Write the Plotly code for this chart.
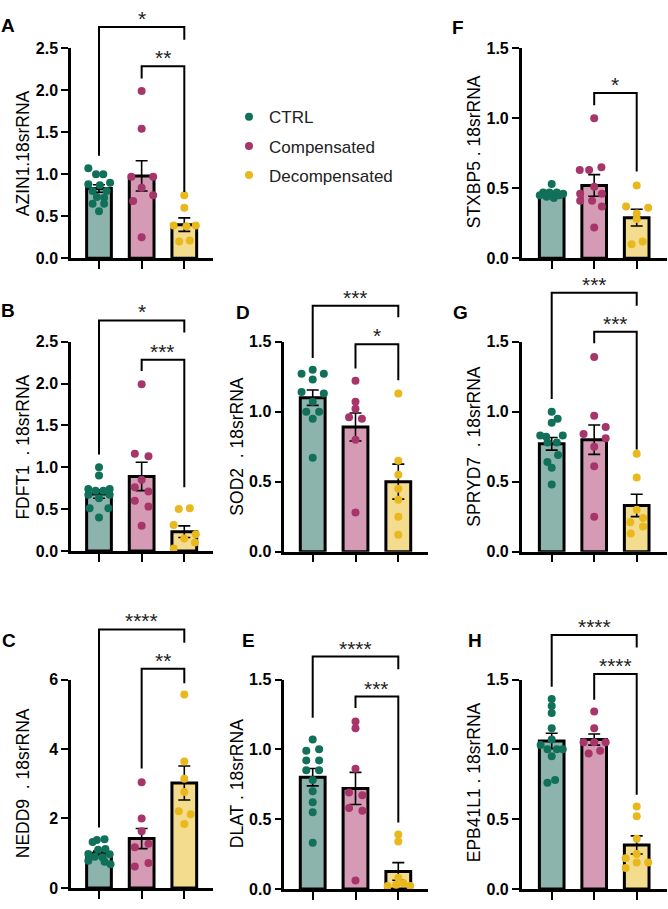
import plotly.graph_objects as go

W, H = 668, 909
FONT = "Liberation Sans, Arial, sans-serif"

groups = ["CTRL", "Compensated", "Decompensated"]
dot_colors = ["#11705a", "#a8356a", "#e8b81c"]
bar_colors = ["#8cb4ad", "#d69bb4", "#f4dc8e"]

# ---------------- data ----------------
# Panel A  AZIN1
a_ctrl = [1.07, 1.00, 1.00, 0.88, 0.87, 0.90, 0.80, 0.80, 0.73, 0.72, 0.65, 0.65, 0.56]
a_comp = [1.99, 1.54, 0.97, 0.97, 0.84, 0.75, 0.68, 0.25]
a_deco = [0.75, 0.60, 0.39, 0.39, 0.38, 0.20, 0.21]
a_mean = [0.83, 0.98, 0.40]
a_sem = [0.045, 0.18, 0.08]
a_sig = [(0, 2, 2.753, 1.22, 2.60, "*"), (1, 2, 2.286, 2.14, 0.787, "**")]

# Panel B  FDFT1
b_ctrl = [1.00, 0.90, 0.74, 0.74, 0.72, 0.72, 0.67, 0.67, 0.63, 0.51, 0.51, 0.40]
b_comp = [1.99, 1.16, 1.13, 0.85, 0.76, 0.71, 0.60, 0.53, 0.30]
b_deco = [0.50, 0.51, 0.31, 0.20, 0.15, 0.10, 0.03]
b_mean = [0.68, 0.89, 0.23]
b_sem = [0.05, 0.17, 0.07]
b_sig = [(0, 2, 2.754, 1.152, 2.61, "*"), (1, 2, 2.285, 2.148, 0.76, "***")]

# Panel C  NEDD9
c_ctrl = [1.40, 1.38, 1.32, 1.12, 1.10, 0.98, 0.97, 0.90, 0.88, 0.78, 0.75, 0.68]
c_comp = [3.04, 2.00, 1.63, 1.17, 1.27, 0.62, 0.72]
c_deco = [5.57, 3.64, 3.14, 2.76, 2.21, 2.12, 1.84]
c_mean = [1.00, 1.42, 3.02]
c_sem = [0.06, 0.29, 0.49]
c_sig = [(0, 2, 7.44, 1.74, 7.06, "****"), (1, 2, 6.31, 3.44, 5.89, "**")]

# Panel D  SOD2
d_ctrl = [1.27, 1.30, 1.27, 1.23, 1.14, 1.13, 1.07, 1.00, 1.00, 0.95, 0.67]
d_comp = [1.22, 1.07, 1.02, 0.96, 0.95, 0.80, 0.28]
d_deco = [1.13, 0.65, 0.55, 0.45, 0.37, 0.25, 0.12]
d_mean = [1.10, 0.89, 0.50]
d_sem = [0.055, 0.10, 0.125]
d_sig = [(0, 2, 1.757, 1.383, 1.675, "***"), (1, 2, 1.481, 1.308, 1.224, "*")]

# Panel E  DLAT
e_ctrl = [1.07, 0.99, 1.00, 0.92, 0.92, 0.85, 0.85, 0.78, 0.70, 0.62, 0.55, 0.33]
e_comp = [1.20, 1.15, 0.86, 0.69, 0.67, 0.58, 0.56, 0.06]
e_deco = [0.39, 0.34, 0.08, 0.02, 0.03, 0.04, 0.02]
e_mean = [0.80, 0.72, 0.125]
e_sem = [0.062, 0.115, 0.063]
e_sig = [(0, 2, 1.664, 1.226, 1.573, "****"), (1, 2, 1.378, 1.296, 0.476, "***")]

# Panel F  STXBP5
f_ctrl = [0.53, 0.47, 0.47, 0.47, 0.46, 0.45, 0.45, 0.43, 0.44]
f_comp = [1.00, 0.63, 0.63, 0.65, 0.51, 0.46, 0.46, 0.41, 0.41, 0.37, 0.22]
f_deco = [0.52, 0.37, 0.36, 0.32, 0.28, 0.10, 0.12]
f_mean = [0.46, 0.52, 0.29]
f_sem = [0.01, 0.077, 0.06]
f_sig = [(1, 2, 1.18, 1.093, 0.619, "*")]

# Panel G  SPRYD7
g_ctrl = [1.00, 0.95, 0.92, 0.83, 0.83, 0.82, 0.78, 0.78, 0.69, 0.64, 0.60, 0.48]
g_comp = [1.39, 0.97, 0.84, 0.89, 0.81, 0.75, 0.61, 0.25]
g_deco = [0.70, 0.53, 0.30, 0.21, 0.24, 0.18, 0.13]
g_mean = [0.77, 0.80, 0.33]
g_sem = [0.045, 0.105, 0.08]
g_sig = [(0, 2, 1.85, 1.091, 1.757, "***"), (1, 2, 1.57, 1.488, 0.729, "***")]

# Panel H  EPB41L1
h_ctrl = [1.36, 1.31, 1.26, 1.15, 1.03, 1.07, 1.00, 1.00, 1.00, 0.95, 0.76, 0.78]
h_comp = [1.27, 1.15, 1.05, 1.05, 1.05, 0.97, 0.99]
h_deco = [0.59, 0.52, 0.36, 0.22, 0.25, 0.19, 0.19, 0.15]
h_mean = [1.06, 1.07, 0.315]
h_sem = [0.055, 0.04, 0.065]
h_sig = [(0, 2, 1.819, 1.448, 1.73, "****"), (1, 2, 1.54, 1.355, 0.675, "****")]

# ---------------- beeswarm horizontal offsets (layout of the dots) ----------------
a_off = [[-0.25, -0.07, 0.10, -0.25, 0.02, 0.26, -0.15, 0.18, -0.05, 0.12, -0.15, 0.12, 0.0],
         [0, 0, -0.24, 0.27, 0, 0.27, -0.2, 0],
         [0, 0, -0.25, 0.27, 0.05, -0.12, 0.13]]
b_off = [[0, 0, -0.25, 0.25, -0.08, 0.10, -0.25, 0.25, 0, -0.22, 0.22, 0],
         [0, -0.16, 0.16, 0, -0.16, 0.16, -0.16, 0.16, 0],
         [-0.13, 0.13, -0.25, 0.27, 0.0, 0.25, -0.25]]
c_off = [[0.13, -0.05, -0.15, 0.15, -0.02, -0.25, 0.25, -0.10, 0.08, -0.25, 0.13, 0.27],
         [0, 0, 0, -0.16, 0.16, -0.16, 0.16],
         [0, 0, 0, 0, -0.13, 0.15, 0]]
d_off = [[-0.26, 0, 0.26, 0, -0.26, 0.26, 0, -0.15, 0.15, 0, 0],
         [0, 0, 0, -0.15, 0.15, 0, 0],
         [0, 0, 0, 0, 0, 0, 0]]
e_off = [[0, -0.15, 0.15, -0.15, 0.15, -0.15, 0.15, 0, 0, 0, 0, 0],
         [0, 0, 0, -0.15, 0.16, -0.15, 0.16, 0],
         [0, 0, 0, -0.25, -0.05, 0.12, 0.28]]
f_off = [[0, -0.20, -0.05, 0.12, 0.27, -0.28, 0.18, 0.05, -0.12],
         [0, -0.34, -0.12, 0.17, 0, -0.33, 0.18, -0.33, -0.05, 0.18, 0],
         [0, -0.25, 0.27, 0, 0, -0.12, 0.14]]
g_off = [[0, 0.14, 0, -0.27, 0.26, -0.13, -0.10, 0.12, 0.15, -0.10, 0, 0],
         [0, 0, -0.25, 0.27, 0.27, 0, 0, 0],
         [0, 0, 0, -0.15, 0.15, 0.15, -0.14]]
h_off = [[0, 0, 0, 0, -0.26, 0, -0.10, 0.12, 0.26, 0, -0.10, 0.08],
         [0, 0, -0.25, 0, 0.27, -0.13, 0.14],
         [0, 0, 0, -0.26, 0, 0.27, 0, -0.26]]

# ---------------- panel layout (pixel geometry) ----------------
panels = [
    dict(L="A", title="AZIN1.18srRNA", pts=(a_ctrl, a_comp, a_deco), off=a_off, mean=a_mean, sem=a_sem, sig=a_sig,
         x0=71, x1=213, b0=99, sp=42.65, y0=255, yt=41, top=2.5, dt=0.5, lab=(8, 18), tit=(23, 148)),
    dict(L="B", title="FDFT1\u00a0\u00a0. 18srRNA", pts=(b_ctrl, b_comp, b_deco), off=b_off, mean=b_mean, sem=b_sem, sig=b_sig,
         x0=71, x1=213, b0=99, sp=42.65, y0=553.3, yt=340, top=2.5, dt=0.5, lab=(8, 308), tit=(23, 448)),
    dict(L="C", title="NEDD9\u00a0\u00a0. 18srRNA", pts=(c_ctrl, c_comp, c_deco), off=c_off, mean=c_mean, sem=c_sem, sig=c_sig,
         x0=71, x1=213, b0=99, sp=42.65, y0=896.7, yt=684.3, top=6, dt=2, lab=(9, 645), tit=(23, 790)),
    dict(L="D", title="SOD2\u00a0\u00a0. 18srRNA", pts=(d_ctrl, d_comp, d_deco), off=d_off, mean=d_mean, sem=d_sem, sig=d_sig,
         x0=284.3, x1=428.3, b0=312.7, sp=42.8, y0=554, yt=340, top=1.5, dt=0.5, lab=(243, 310), tit=(237, 447)),
    dict(L="E", title="DLAT\u00a0. 18srRNA", pts=(e_ctrl, e_comp, e_deco), off=e_off, mean=e_mean, sem=e_sem, sig=e_sig,
         x0=284.3, x1=428.3, b0=312.7, sp=42.8, y0=897.7, yt=684.3, top=1.5, dt=0.5, lab=(248, 645), tit=(237, 791)),
    dict(L="F", title="STXBP5 . 18srRNA", pts=(f_ctrl, f_comp, f_deco), off=f_off, mean=f_mean, sem=f_sem, sig=f_sig,
         x0=521.7, x1=666.7, b0=551.7, sp=42.5, y0=255, yt=41, top=1.5, dt=0.5, lab=(458, 20), tit=(474, 147)),
    dict(L="G", title="SPRYD7\u00a0\u00a0. 18srRNA", pts=(g_ctrl, g_comp, g_deco), off=g_off, mean=g_mean, sem=g_sem, sig=g_sig,
         x0=521.7, x1=666.7, b0=551.7, sp=42.5, y0=554, yt=340, top=1.5, dt=0.5, lab=(460, 310), tit=(474, 447)),
    dict(L="H", title="EPB41L1 . 18srRNA", pts=(h_ctrl, h_comp, h_deco), off=h_off, mean=h_mean, sem=h_sem, sig=h_sig,
         x0=521.7, x1=666.7, b0=551.7, sp=42.5, y0=897.7, yt=684.3, top=1.5, dt=0.5, lab=(475, 645), tit=(474, 789)),
]

fig = go.Figure()
layout = {}
annotations = []

for i, p in enumerate(panels):
    km, kb = 2 * i + 1, 2 * i + 2
    sm = "" if km == 1 else str(km)
    sb = str(kb)
    xdom = [p["x0"] / W, p["x1"] / W]
    xr = [-(p["b0"] - p["x0"]) / p["sp"], (p["x1"] - p["b0"]) / p["sp"]]
    scale = (p["y0"] - p["yt"]) / p["top"]

    # main axes
    tv = []
    v = 0.0
    while v <= p["top"] + 1e-9:
        tv.append(round(v, 3))
        v += p["dt"]
    tt = [("<b>%d</b>" % t) if p["dt"] >= 1 else ("<b>%.1f</b>" % t) for t in tv]
    layout["xaxis" + sm] = dict(domain=xdom, range=xr, anchor="y" + sm, showline=True, linewidth=2.5,
                                linecolor="black", ticks="outside", ticklen=8, tickwidth=2, tickcolor="black",
                                tickvals=[0, 1, 2], showticklabels=False, showgrid=False, zeroline=False,
                                fixedrange=True)
    layout["yaxis" + sm] = dict(domain=[1 - p["y0"] / H, 1 - p["yt"] / H], range=[0, p["top"]], anchor="x" + sm,
                                showline=True, linewidth=2.5, linecolor="black", ticks="outside", ticklen=7,
                                tickwidth=2, tickcolor="black", tickvals=tv, ticktext=tt, showgrid=False,
                                zeroline=False, fixedrange=True,
                                tickfont=dict(family=FONT, size=16, color="black"))
    # bracket overlay axes (same x scale, y extends to the top of the figure)
    layout["xaxis" + sb] = dict(domain=xdom, range=xr, anchor="y" + sb, visible=False, fixedrange=True)
    layout["yaxis" + sb] = dict(domain=[1 - p["y0"] / H, 1], range=[0, p["y0"] / scale], anchor="x" + sb,
                                visible=False, fixedrange=True)

    # bars with SEM
    fig.add_trace(go.Bar(x=[0, 1, 2], y=p["mean"], width=0.58, xaxis="x" + sm, yaxis="y" + sm,
                         marker=dict(color=bar_colors, line=dict(color="black", width=3)),
                         error_y=dict(type="data", array=p["sem"], visible=True, color="black",
                                      thickness=1.6, width=6),
                         showlegend=False, hoverinfo="skip"))
    # dots
    for g in range(3):
        vals = p["pts"][g]
        xs = [g + o for o in p["off"][g]]
        fig.add_trace(go.Scatter(x=xs, y=vals, mode="markers", xaxis="x" + sm, yaxis="y" + sm,
                                 marker=dict(color=dot_colors[g], size=8, line=dict(width=0)),
                                 cliponaxis=False, showlegend=False, hoverinfo="skip"))
    # significance brackets
    for (xa, xb, ytop, yla, ylb, star) in p["sig"]:
        fig.add_trace(go.Scatter(x=[xa, xa, xb, xb], y=[yla, ytop, ytop, ylb], mode="lines",
                                 xaxis="x" + sb, yaxis="y" + sb, line=dict(color="black", width=2),
                                 showlegend=False, hoverinfo="skip"))
        annotations.append(dict(x=(xa + xb) / 2, y=ytop, xref="x" + sb, yref="y" + sb, text=star,
                                showarrow=False, yanchor="bottom", xanchor="center", yshift=-5,
                                font=dict(family=FONT, size=21, color="#222")))
    # panel letter and axis title
    annotations.append(dict(x=p["lab"][0] / W, y=1 - p["lab"][1] / H, xref="paper", yref="paper",
                            text="<b>" + p["L"] + "</b>", showarrow=False, xanchor="center", yanchor="middle",
                            font=dict(family=FONT, size=19, color="black")))
    annotations.append(dict(x=p["tit"][0] / W, y=1 - p["tit"][1] / H, xref="paper", yref="paper",
                            text=p["title"], showarrow=False, xanchor="center", yanchor="middle",
                            textangle=-90, font=dict(family=FONT, size=17.5, color="black")))

# legend entries
for g in range(3):
    fig.add_trace(go.Scatter(x=[None], y=[None], mode="markers", name=groups[g], legendgroup=groups[g],
                             marker=dict(color=dot_colors[g], size=8), xaxis="x", yaxis="y"))

fig.update_layout(
    width=W, height=H, margin=dict(l=0, r=0, t=0, b=0),
    paper_bgcolor="white", plot_bgcolor="rgba(0,0,0,0)",
    showlegend=True,
    legend=dict(x=229 / W, y=1 - 93 / H, xanchor="left", yanchor="top", bgcolor="rgba(0,0,0,0)",
                font=dict(family=FONT, size=17, color="#222"), tracegroupgap=4, itemwidth=30),
    annotations=annotations,
    barmode="overlay",
    **layout,
)

fig.write_html("out.html")
